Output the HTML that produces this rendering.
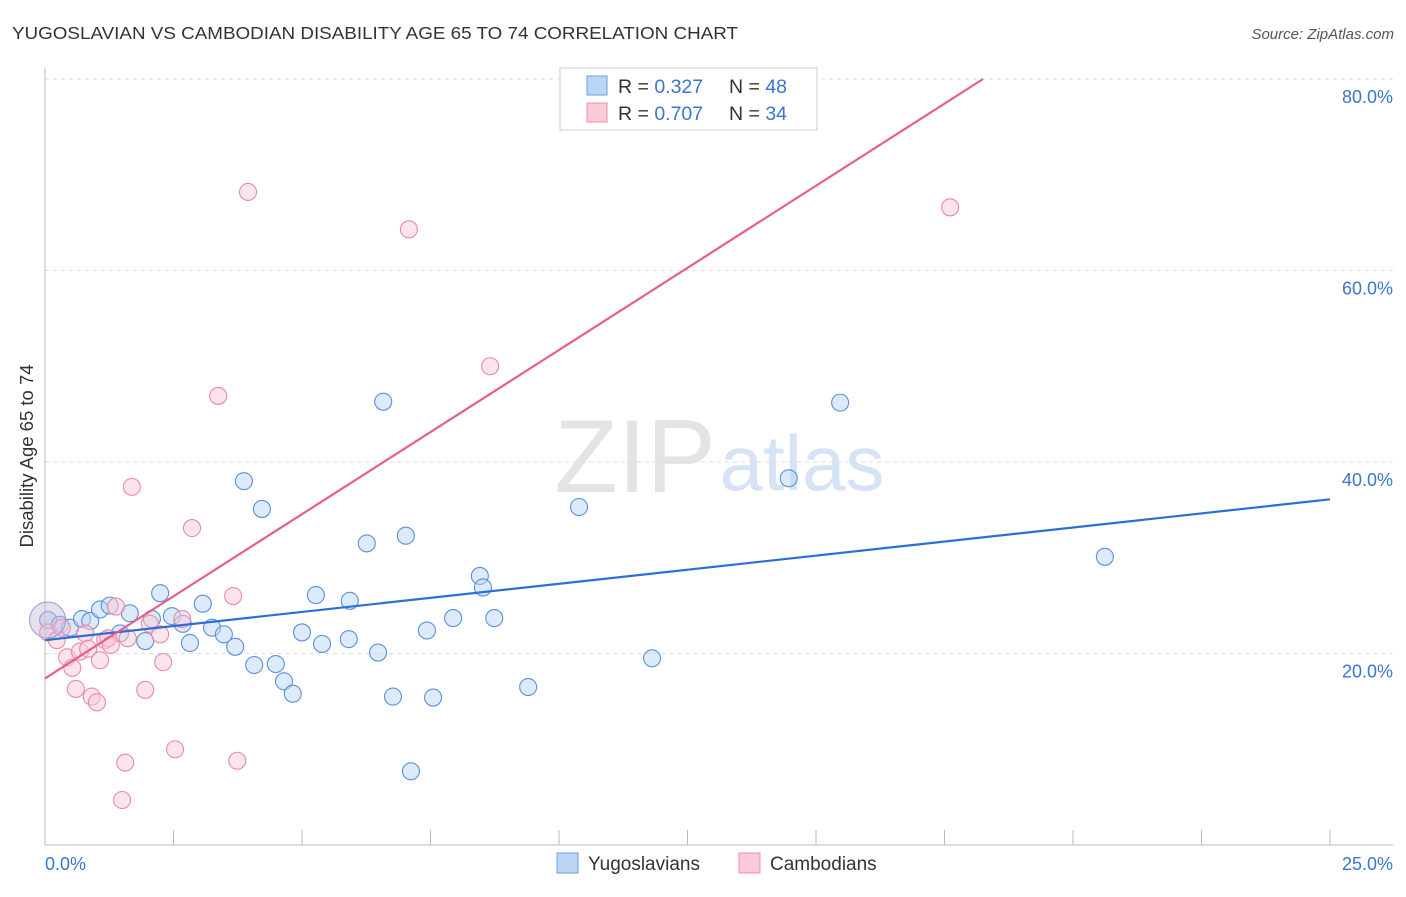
<!DOCTYPE html>
<html><head><meta charset="utf-8">
<style>
body{margin:0;background:#fff;font-family:"Liberation Sans",sans-serif;}
svg text{font-family:"Liberation Sans",sans-serif;}
</style></head>
<body>
<svg id="chart" width="1406" height="892">
<text x="12" y="39" font-size="17.5" fill="#333" textLength="726" lengthAdjust="spacingAndGlyphs">YUGOSLAVIAN VS CAMBODIAN DISABILITY AGE 65 TO 74 CORRELATION CHART</text>
<text x="1394" y="39" font-size="15" fill="#555" font-style="italic" text-anchor="end">Source: ZipAtlas.com</text>
<g>
<text x="635" y="492" font-size="104" fill="#e4e4e4" font-family="Liberation Serif,serif" text-anchor="middle">ZIP</text>
<text x="802" y="490" font-size="78" fill="#d5e3f5" text-anchor="middle">atlas</text>
</g>
<g id="grid"></g>
<g id="axes"></g>
<g id="marks"></g>
<text transform="translate(33,456) rotate(-90)" font-size="18.5" fill="#333" text-anchor="middle">Disability Age 65 to 74</text>
<text x="45" y="870" font-size="18" fill="#3a75d0">0.0%</text>
<text x="1393" y="870" font-size="18" fill="#3a75d0" text-anchor="end">25.0%</text>
<g>
<rect x="560" y="68" width="257" height="62" fill="#fff" stroke="#ccc"/>
<rect x="587" y="76" width="20" height="19" fill="#bcd5f5" stroke="#6a9ee0"/>
<rect x="587" y="103" width="20" height="19" fill="#fbcad7" stroke="#ee90a8"/>
<text x="618" y="93" font-size="19.5" fill="#333">R = <tspan fill="#3a75d0">0.327</tspan><tspan x="729">N = </tspan><tspan fill="#3a75d0">48</tspan></text>
<text x="618" y="120" font-size="19.5" fill="#333">R = <tspan fill="#3a75d0">0.707</tspan><tspan x="729">N = </tspan><tspan fill="#3a75d0">34</tspan></text>
</g>
<g>
<rect x="557" y="853" width="21" height="20" fill="#bcd5f5" stroke="#6a9ee0"/>
<text x="588" y="870" font-size="19" fill="#333">Yugoslavians</text>
<rect x="739" y="853" width="21" height="20" fill="#fbcad7" stroke="#ee90a8"/>
<text x="770" y="870" font-size="19" fill="#333">Cambodians</text>
</g>
</svg>
<script>
const yTicks=[20,40,60,80];
const yTickLabels=["20.0%","40.0%","60.0%","80.0%"];
const xTicks=[0,2.5,5,7.5,10,12.5,15,17.5,20,22.5,25];
const yugoX=[0.06,0.29,0.49,0.72,0.88,1.07,1.26,1.46,1.65,1.95,2.08,2.24,2.47,2.68,2.82,3.07,3.25,3.48,3.70,3.87,4.07,4.22,4.49,4.65,4.82,5.00,5.27,5.39,5.91,5.93,6.26,6.48,6.58,6.77,7.02,7.12,7.43,7.55,7.94,8.46,8.52,8.74,9.40,10.39,11.81,14.47,15.47,20.62];
const yugoY=[23.5,23.0,22.7,23.6,23.4,24.6,25.0,22.1,24.2,21.3,23.6,26.3,23.9,23.1,21.1,25.2,22.7,22.0,20.7,38.0,18.8,35.1,18.9,17.1,15.8,22.2,26.1,21.0,21.5,25.5,31.5,20.1,46.3,15.5,32.3,7.7,22.4,15.4,23.7,28.1,26.9,23.7,16.5,35.3,19.5,38.3,46.2,30.1];
const cambX=[0.06,0.23,0.33,0.43,0.53,0.60,0.68,0.78,0.84,0.91,1.01,1.07,1.17,1.23,1.28,1.38,1.50,1.56,1.61,1.69,1.95,2.04,2.24,2.30,2.53,2.67,2.86,3.37,3.66,3.74,3.95,7.08,8.66,17.61];
const cambY=[22.2,21.4,22.7,19.6,18.5,16.3,20.2,22.1,20.5,15.5,14.9,19.3,21.4,21.6,20.9,24.9,4.7,8.6,21.6,37.4,16.2,23.1,22.0,19.1,10.0,23.6,33.1,46.9,26.0,8.8,68.2,64.3,50.0,66.6];
const yugoTrendX=[0,25];
const yugoTrendY=[21.4,36.1];
const cambTrendX=[0,18.25];
const cambTrendY=[17.4,80];

const NS="http://www.w3.org/2000/svg";
const X=v=>45+v/25*1285;
const Y=v=>845-v/20*191.5;
function mk(tag,attrs,parent){const e=document.createElementNS(NS,tag);for(const k in attrs)e.setAttribute(k,attrs[k]);parent.appendChild(e);return e;}
const grid=document.getElementById('grid'),axes=document.getElementById('axes'),marks=document.getElementById('marks');
yTicks.forEach((t,i)=>{
  const l=mk('line',{x1:45,x2:1393,y1:Y(t),y2:Y(t),stroke:'#ddd','stroke-dasharray':'4,4'},grid);
  
  
  const tx=mk('text',{x:1393,y:Y(t)+24,'font-size':18,fill:'#3a75d0','text-anchor':'end'},grid);
  tx.textContent=yTickLabels[i];
  
  
});
let a=mk('line',{x1:45,x2:45,y1:68,y2:845,stroke:'#bbb'},axes);


a=mk('line',{x1:45,x2:1393,y1:845,y2:845,stroke:'#bbb'},axes);


xTicks.forEach(t=>{
  const l=mk('line',{x1:X(t),x2:X(t),y1:830,y2:845,stroke:'#bbb'},axes);
  
  
});
function pts(xs,ys,fill,stroke,name){
  xs.forEach((x,i)=>{
    const c=mk('circle',{cx:X(x),cy:Y(ys[i]),r:8.5,fill:fill,'fill-opacity':0.5,stroke:stroke,'stroke-width':1.1},marks);
    
    
  });
}
pts(yugoX,yugoY,'#bcd5f5','#5a8fdc','yugoslavian-point');
pts(cambX,cambY,'#fbcad7','#ea8aa5','cambodian-point');
let big=mk('circle',{cx:X(0.05),cy:Y(23.5),r:18,fill:'#c9b8d8','fill-opacity':0.45,stroke:'#8aa0d8'},marks);


let t1=mk('line',{x1:X(yugoTrendX[0]),y1:Y(yugoTrendY[0]),x2:X(yugoTrendX[1]),y2:Y(yugoTrendY[1]),stroke:'#2a6fd6','stroke-width':2.2},marks);


let t2=mk('line',{x1:X(cambTrendX[0]),y1:Y(cambTrendY[0]),x2:X(cambTrendX[1]),y2:Y(cambTrendY[1]),stroke:'#e55f8a','stroke-width':2.2},marks);


</script>
</body></html>
